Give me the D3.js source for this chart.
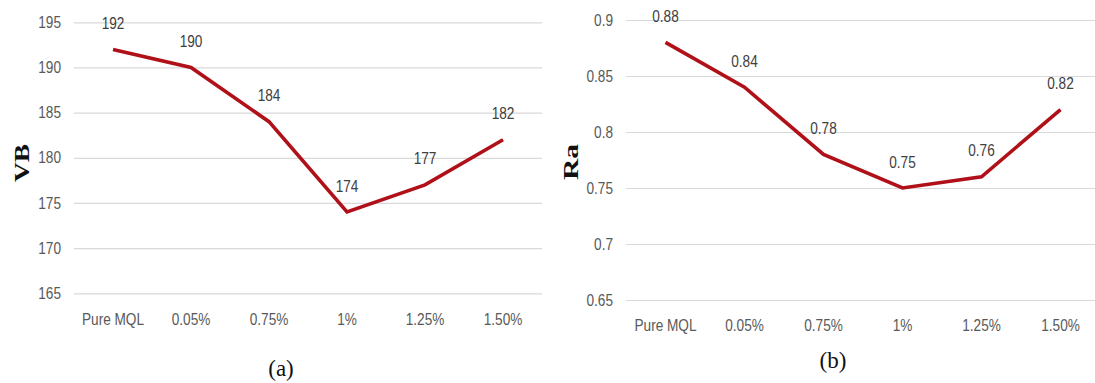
<!DOCTYPE html>
<html>
<head>
<meta charset="utf-8">
<script src="https://cdn.jsdelivr.net/npm/d3@7/dist/d3.min.js"></script>
<style>
  html, body { margin: 0; padding: 0; background: #fff; }
  svg { display: block; }
  .tick text, .xlab, .vlab { font-family: "Liberation Sans", Arial, sans-serif; font-size: 15.5px; }
  .ttl { font-family: "Liberation Serif", "Times New Roman", serif; }
</style>
</head>
<body>
<svg id="chart" width="1095" height="383"></svg>
<script>
// Categories along the horizontal axis (nanofluid concentration)
const categories = ["Pure MQL", "0.05%", "0.75%", "1%", "1.25%", "1.50%"];

// Flank wear VB per condition
const vbValues = [192, 190, 184, 174, 177, 182];
const vbTicks = [165, 170, 175, 180, 185, 190, 195];

// Surface roughness Ra per condition
const raValues = [0.88, 0.84, 0.78, 0.75, 0.76, 0.82];
const raTicks = [0.65, 0.7, 0.75, 0.8, 0.85, 0.9];

const svg = d3.select("#chart");
const lineColor = "#b01119";
const narrow = 0.88; // horizontal squeeze for a condensed look

// place a text element at (x, y) with a condensed horizontal scale
function placeNarrow(sel, fx, fy) {
  sel.attr("x", 0).attr("y", 0)
     .attr("transform", (d, i) => `translate(${fx(d, i)},${fy(d, i)}) scale(${narrow},1.03)`);
}

const panels = [
  { values: vbValues, ticks: vbTicks, domain: [165, 195], xr: [74, 542], yr: [293.3, 22.3],
    fmt: d3.format("d"), title: "VB", titleX: 21, titleY: 163, titleLen: 38,
    caption: "(a)", capX: 281, capY: 376, xlabY: 325 },
  { values: raValues, ticks: raTicks, domain: [0.65, 0.9], xr: [626, 1100], yr: [300, 20],
    fmt: d => String(d), title: "Ra", titleX: 570, titleY: 162, titleLen: 36,
    caption: "(b)", capX: 833, capY: 368, xlabY: 331 }
];

panels.forEach(p => {
  const x = d3.scaleBand().domain(categories).range(p.xr);
  const y = d3.scaleLinear().domain(p.domain).range(p.yr);
  const cx = c => x(c) + x.bandwidth() / 2;
  const g = svg.append("g");

  // horizontal gridlines with value labels
  const axis = d3.axisLeft(y).tickValues(p.ticks).tickFormat(p.fmt)
    .tickSize(-(p.xr[1] - p.xr[0])).tickPadding(13);
  const ag = g.append("g").attr("transform", `translate(${p.xr[0]},0)`).call(axis);
  ag.select(".domain").remove();
  ag.selectAll(".tick line").attr("stroke", "#d9d9d9").attr("stroke-width", 1.2);
  ag.selectAll(".tick text").attr("fill", "#595959")
    .call(placeNarrow, () => -13, () => 0);

  // category labels
  g.selectAll(".xlab").data(categories).join("text")
    .attr("class", "xlab")
    .attr("text-anchor", "middle")
    .attr("fill", "#595959")
    .text(d => d)
    .call(placeNarrow, d => cx(d), () => p.xlabY);

  // series line
  const line = d3.line()
    .x((d, i) => cx(categories[i]))
    .y(d => y(d));
  g.append("path").datum(p.values)
    .attr("d", line)
    .attr("fill", "none")
    .attr("stroke", lineColor)
    .attr("stroke-width", 3.6)
    .attr("stroke-linejoin", "miter");

  // value labels above points
  g.selectAll(".vlab").data(p.values).join("text")
    .attr("class", "vlab")
    .attr("text-anchor", "middle")
    .attr("fill", "#404040")
    .text(d => p.fmt(d))
    .call(placeNarrow, (d, i) => cx(categories[i]), d => y(d) - 20.5);

  // axis title
  g.append("text").attr("class", "ttl")
    .attr("transform", `translate(${p.titleX},${p.titleY}) rotate(-90)`)
    .attr("text-anchor", "middle")
    .attr("dy", "0.35em")
    .attr("font-size", 22)
    .attr("font-weight", "bold")
    .attr("fill", "#111")
    .attr("textLength", p.titleLen)
    .attr("lengthAdjust", "spacingAndGlyphs")
    .text(p.title);

  // panel caption
  g.append("text").attr("class", "ttl")
    .attr("x", p.capX)
    .attr("y", p.capY)
    .attr("text-anchor", "middle")
    .attr("font-size", 23)
    .attr("fill", "#111")
    .text(p.caption);
});
</script>
</body>
</html>
